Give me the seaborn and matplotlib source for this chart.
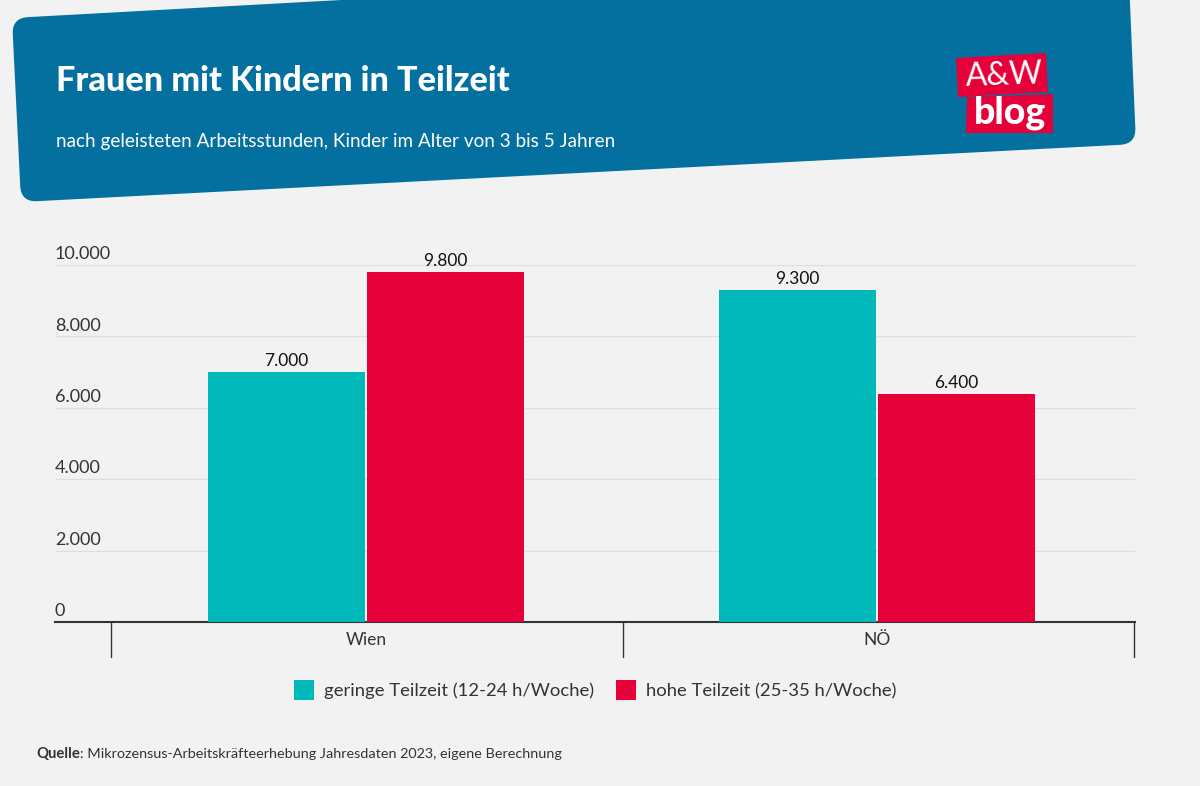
import matplotlib
matplotlib.use("Agg")
import matplotlib.pyplot as plt
from matplotlib.patches import Polygon, PathPatch, Rectangle
from matplotlib.path import Path
import numpy as np
import seaborn as sns
import pandas as pd

regions = ["Wien", "NÖ"]
geringe = [7000, 9300]
hohe = [9800, 6400]
series_names = ["geringe Teilzeit (12-24 h/Woche)", "hohe Teilzeit (25-35 h/Woche)"]
y_ticks = [0, 2000, 4000, 6000, 8000, 10000]
title = "Frauen mit Kindern in Teilzeit"
subtitle = "nach geleisteten Arbeitsstunden, Kinder im Alter von 3 bis 5 Jahren"

BG = "#f2f2f2"; BLUE = "#03709f"; TEAL = "#00b8b8"; RED = "#e6003a"; INK = "#333333"
FONT = ["Lato", "DejaVu Sans"]
sns.set_theme(style="white")
plt.rcParams["font.family"] = FONT

def de(v):
    return f"{v:,}".replace(",", ".")

def rounded(pts, r):
    pts = [np.array(p, float) for p in pts]
    verts, codes = [], []
    n = len(pts)
    for i, p in enumerate(pts):
        a = pts[i-1]; b = pts[(i+1) % n]
        s = p + (a-p)/np.linalg.norm(a-p)*r
        e = p + (b-p)/np.linalg.norm(b-p)*r
        verts += [s, p, e]
        codes += [Path.MOVETO if i == 0 else Path.LINETO, Path.CURVE3, Path.CURVE3]
    verts.append(verts[0]); codes.append(Path.CLOSEPOLY)
    return Path(verts, codes)

W, H = 1200, 786
fig = plt.figure(figsize=(W/100, H/100), dpi=100, facecolor=BG)
bgax = fig.add_axes([0, 0, 1, 1]); bgax.set_xlim(0, W); bgax.set_ylim(H, 0); bgax.axis("off")
bgax.add_patch(PathPatch(rounded([(12,18),(1128,-43),(1136,144),(21,202)], 16), fc=BLUE, ec="none"))
bgax.add_patch(Polygon([(956,58),(1046,53),(1048,92),(958,97)], closed=True, fc=RED, ec="none"))
bgax.add_patch(Polygon([(967,97),(1053,94),(1053,133),(966,133)], closed=True, fc=RED, ec="none"))
bgax.text(1004, 76, "A&W", color="white", fontsize=23, ha="center", va="center", rotation=2, family=["Lato"])
bgax.text(1010, 113, "blog", color="white", fontsize=27, fontweight="black", ha="center", va="center", family=["Lato"])
bgax.text(56, 81, title, color="white", fontsize=24.7, fontweight="black", va="center", family=FONT)
bgax.text(56, 141, subtitle, color="white", fontsize=13.55, va="center", family=FONT)

x0, x1, ytop, ybot = 55, 1135, 265, 622
ax = fig.add_axes([x0/W, 1-ybot/H, (x1-x0)/W, (ybot-ytop)/H], facecolor="none")
df = pd.DataFrame({"region": regions*2, "val": geringe+hohe, "s": [series_names[0]]*2+[series_names[1]]*2})
sns.barplot(data=df, x="region", y="val", hue="s", palette=[TEAL, RED], ax=ax, width=0.6223, gap=0.0126,
            legend=False, saturation=1, zorder=3, linewidth=0)
ax.set_ylim(0, 10000); ax.set_xlim(-0.6086, 1.505)
ax.set_xlabel(""); ax.set_ylabel("")
ax.set_yticks(y_ticks); ax.set_yticklabels([])
ax.tick_params(left=False, bottom=False, labelbottom=False)
ax.grid(axis="y", color="#dedede", lw=1, zorder=0); ax.set_axisbelow(True)
for s in ["top","right","left"]:
    ax.spines[s].set_visible(False)
ax.spines["bottom"].set_color(INK); ax.spines["bottom"].set_linewidth(1.5)
for c in ax.containers:
    ax.bar_label(c, labels=[de(int(v)) for v in c.datavalues], padding=2, fontsize=12.5, color="#111111", family=FONT)
for v in y_ticks:
    ax.annotate(de(v), (0, v), xycoords=ax.get_yaxis_transform(), xytext=(0, 2), textcoords="offset points",
                fontsize=13, color=INK, va="bottom", ha="left", family=FONT)

for x in [111, 623, 1134]:
    bgax.plot([x, x], [622, 657], color=INK, lw=1)
for r, x in zip(regions, [366, 877]):
    bgax.text(x, 640, r, fontsize=12.5, color=INK, ha="center", va="center", family=FONT)
for x, c, n in zip([294, 616], [TEAL, RED], series_names):
    bgax.add_patch(Rectangle((x, 680), 20, 20, fc=c, ec="none"))
    bgax.text(x+30, 691, n, fontsize=13.3, color=INK, va="center", family=FONT)
bgax.text(36, 754, "Quelle", fontsize=10.7, fontweight="bold", color=INK, va="center", family=FONT)
bgax.text(79.5, 754, ": Mikrozensus-Arbeitskräfteerhebung Jahresdaten 2023, eigene Berechnung", fontsize=10.4, color=INK, va="center", family=FONT)
fig.savefig("out.png", dpi=100, facecolor=BG)
